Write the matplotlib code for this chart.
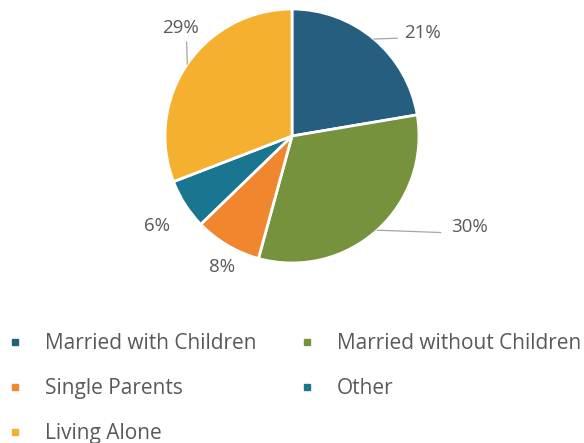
import numpy as np
import matplotlib.pyplot as plt
from matplotlib.lines import Line2D

categories = ["Married with Children", "Married without Children", "Single Parents",
              "Other", "Living Alone"]
values = [21, 30, 8, 6, 29]
colors = ["#255E7E", "#77923C", "#F0862E", "#1A7590", "#F5B030"]

# label text positions (pie radius units) and leader line end points (None = no line)
label_pos = [(1.03, 0.81), (1.40, -0.72), (-0.55, -1.03), (-1.06, -0.71), (-0.88, 0.85)]
leader_end = [(0.83, 0.77), (1.17, -0.76), None, None, (-0.83, 0.74)]

plt.rcParams["font.family"] = ["Open Sans", "DejaVu Sans"]
text_color = "#595959"

fig = plt.figure(figsize=(5.84, 4.43), dpi=100)
ax = fig.add_axes([165 / 584, 180 / 443, 254 / 584, 254 / 443])

wedges, _ = ax.pie(values, colors=colors, startangle=90, counterclock=False,
                   wedgeprops=dict(edgecolor="white", linewidth=2))
ax.set_xlim(-1, 1)
ax.set_ylim(-1, 1)
ax.set_aspect("equal")
ax.axis("off")

for w, v, lp, le in zip(wedges, values, label_pos, leader_end):
    mid = np.deg2rad((w.theta1 + w.theta2) / 2)
    if le is not None:
        ex, ey = np.cos(mid), np.sin(mid)
        ax.plot([ex, le[0]], [ey, le[1]], color="#A6A6A6", lw=0.9, clip_on=False)
    ax.text(lp[0], lp[1], f"{v}%", ha="center", va="center", fontsize=13.5,
            color=text_color, clip_on=False)

handles = [Line2D([], [], marker="s", linestyle="none", markersize=5,
                  markerfacecolor=c, markeredgecolor=c) for c in colors]

# two legend columns, placed separately
for idx, x0 in [([0, 2, 4], 4.6 / 584), ([1, 3], 296.6 / 584)]:
    leg = fig.legend([handles[i] for i in idx], [categories[i] for i in idx],
                     loc="upper left", bbox_to_anchor=(x0, 1 - 333 / 443),
                     frameon=False, fontsize=15, labelspacing=1.16,
                     handletextpad=0.94, handlelength=1.0,
                     borderpad=0, borderaxespad=0)
    for t in leg.get_texts():
        t.set_color(text_color)

fig.savefig("out.png", dpi=100)
